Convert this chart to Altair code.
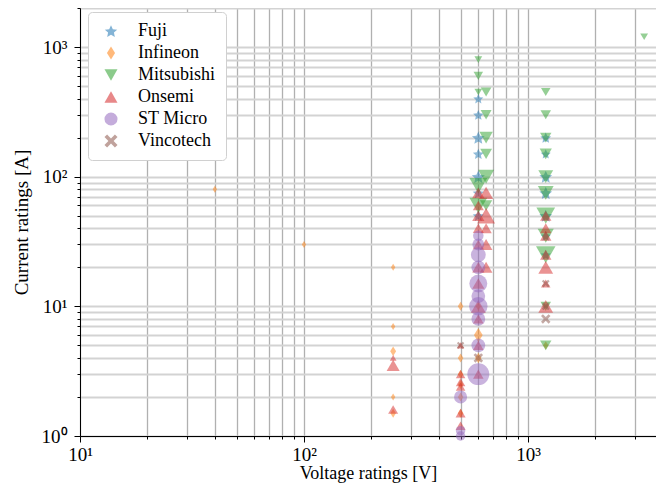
import math
import altair as alt
import pandas as pd

makers = ["Fuji", "Infineon", "Mitsubishi", "Onsemi", "ST Micro", "Vincotech"]
colors = ["#1f77b4", "#ff7f0e", "#2ca02c", "#d62728", "#9467bd", "#8c564b"]

# (voltage V, current A, marker area)
fuji_v = [600, 600, 600, 600, 600, 600, 600, 1200, 1200, 1200, 1200, 1200, 1200, 1200]
fuji_i = [400, 300, 200, 150, 100, 75, 50, 200, 150, 100, 75, 50, 35, 25]
fuji_s = [110, 120, 180, 130, 190, 140, 140, 130, 110, 180, 180, 180, 120, 120]

inf_v = [40, 100, 250, 250, 250, 250, 250, 500, 500, 500, 500, 500, 500, 600, 600, 600, 1200]
inf_i = [80, 30, 20, 7, 4.5, 2, 1.5, 10, 4, 3, 2.5, 2, 1.5, 6, 4, 10, 5]
inf_s = [50, 50, 50, 50, 90, 50, 80, 80, 80, 80, 80, 80, 80, 200, 110, 70, 70]

mit_v = [600, 600, 600, 650, 650, 650, 650, 650, 600, 600, 650,
         1200, 1200, 1200, 1200, 1200, 1200, 1200, 1200, 1200, 1200, 1200, 3300]
mit_i = [800, 600, 450, 450, 300, 200, 150, 100, 85, 60, 60,
         450, 300, 200, 150, 100, 75, 50, 35, 25, 10, 5, 1200]
mit_s = [60, 90, 60, 110, 120, 180, 140, 260, 320, 320, 150,
         90, 110, 130, 150, 220, 250, 350, 260, 380, 110, 130, 60]

ons_v = [250, 250, 250, 500, 500, 500, 500, 500, 500,
         600, 600, 600, 600, 600, 600, 600, 600, 600, 600, 600,
         650, 650, 650, 650, 650,
         1200, 1200, 1200, 1200, 1200, 1200, 1200]
ons_i = [4, 3.5, 1.6, 5, 3, 2.6, 2.4, 1.5, 1.2,
         75, 60, 50, 40, 30, 20, 15, 10, 8, 5, 3,
         75, 50, 40, 30, 20,
         50, 40, 35, 25, 20, 15, 10]
ons_s = [45, 170, 100, 55, 90, 90, 90, 100, 100,
         150, 120, 150, 120, 120, 150, 150, 220, 110, 110, 110,
         200, 320, 130, 160, 160,
         130, 130, 130, 130, 220, 90, 220]

st_v = [500, 500, 500, 600, 600, 600, 600, 600, 600, 600, 600, 600, 600]
st_i = [2, 1.1, 1, 35, 30, 25, 20, 15, 12, 10, 8, 5, 3]
st_s = [170, 90, 90, 110, 140, 220, 190, 320, 190, 340, 190, 190, 480]

vin_v = [500, 600, 1200, 1200, 1200]
vin_i = [5, 4, 15, 10, 8]
vin_s = [55, 90, 60, 60, 90]

series = [
    ("Fuji", fuji_v, fuji_i, fuji_s),
    ("Infineon", inf_v, inf_i, inf_s),
    ("Mitsubishi", mit_v, mit_i, mit_s),
    ("Onsemi", ons_v, ons_i, ons_s),
    ("ST Micro", st_v, st_i, st_s),
    ("Vincotech", vin_v, vin_i, vin_s),
]
rows = []
for name, vs, cs, ss in series:
    for v, c, s in zip(vs, cs, ss):
        rows.append({"maker": name, "V": v, "I": c, "s": s})
df = pd.DataFrame(rows)

# marker shapes (unit-square paths)
pts = []
for k in range(10):
    a = math.radians(-90 + 36 * k)
    r = 1.0 if k % 2 == 0 else 0.47
    pts.append(f"{r*math.cos(a):.3f},{r*math.sin(a) + 0.1:.3f}")
star = "M" + "L".join(pts) + "Z"
thin_diamond = "M0,-1L0.62,0L0,1L-0.62,0Z"
xfill = ("M-1,-0.6L-0.6,-1L0,-0.4L0.6,-1L1,-0.6L0.4,0L1,0.6L0.6,1L0,0.4"
         "L-0.6,1L-1,0.6L-0.4,0Z")
shapes = [star, thin_diamond, "triangle-down", "triangle-up", "circle", xfill]

x_ticks = [10, 20, 30, 40, 50, 60, 70, 80, 90, 100, 200, 300, 400, 500, 600,
           700, 800, 900, 1000, 2000, 3000]
y_ticks = [1, 2, 3, 4, 5, 6, 7, 8, 9, 10, 20, 30, 40, 50, 60, 70, 80, 90,
           100, 200, 300, 400, 500, 600, 700, 800, 900, 1000, 2000]

major_test = "indexof([1,10,100,1000], datum.value) >= 0"
lab_expr = ("datum.value == 1 ? '10⁰' : datum.value == 10 ? '10¹' : "
            "datum.value == 100 ? '10²' : datum.value == 1000 ? '10³' : ''")

FONT = "Liberation Serif"

legend = alt.Legend(
    title=None, orient="none", legendX=8, legendY=4, direction="vertical",
    fillColor="white", strokeColor="#d0d0d0", cornerRadius=4, padding=10,
    labelFont=FONT, labelFontSize=18, labelColor="black", labelOffset=18,
    symbolSize=170, symbolOpacity=0.55, symbolStrokeWidth=0, rowPadding=4,
    symbolOffset=4,
)

chart = alt.Chart(df).mark_point(filled=True, opacity=0.5, strokeWidth=0).encode(
    x=alt.X("V:Q", scale=alt.Scale(type="log", domain=[10, 3727], nice=False),
            axis=alt.Axis(values=x_ticks, labelExpr=lab_expr, title="Voltage ratings [V]",
                          grid=True, gridColor="#b0b0b0", gridWidth=1.3,
                          tickSize={"condition": {"test": major_test, "value": 6}, "value": 3},
                          tickColor="black", domainColor="black",
                          labelFont=FONT, labelFontSize=19, labelColor="black",
                          labelOverlap=False, labelFlush=False, labelPadding=3,
                          titleFont=FONT, titleFontSize=18, titleFontWeight="normal",
                          titleColor="black", titlePadding=0)),
    y=alt.Y("I:Q", scale=alt.Scale(type="log", domain=[1, 2000], nice=False),
            axis=alt.Axis(values=y_ticks, labelExpr=lab_expr, title="Current ratings [A]",
                          grid=True, gridColor="#d3d3d3", gridWidth=1.8,
                          tickSize={"condition": {"test": major_test, "value": 6}, "value": 3},
                          tickColor="black", domainColor="black",
                          labelFont=FONT, labelFontSize=19, labelColor="black",
                          labelOverlap=False, labelFlush=False, labelPadding=7,
                          titleFont=FONT, titleFontSize=19, titleFontWeight="normal",
                          titleColor="black", titlePadding=10)),
    color=alt.Color("maker:N", scale=alt.Scale(domain=makers, range=colors), legend=legend),
    shape=alt.Shape("maker:N", scale=alt.Scale(domain=makers, range=shapes), legend=legend),
    size=alt.Size("s:Q", scale=None, legend=None),
    order=alt.Order("ord:Q"),
).transform_calculate(
    ord="indexof(['Fuji','Infineon','Mitsubishi','Onsemi','ST Micro','Vincotech'], datum.maker)"
).properties(
    width=576, height=428,
    autosize=alt.AutoSizeParams(type="none"),
    padding={"left": 72, "top": 0, "right": 0, "bottom": 48},
).configure_view(stroke="#222222", strokeWidth=1.2).configure(background="white", font=FONT)

chart.save("out.html", embed_options={"renderer": "svg", "actions": False})
